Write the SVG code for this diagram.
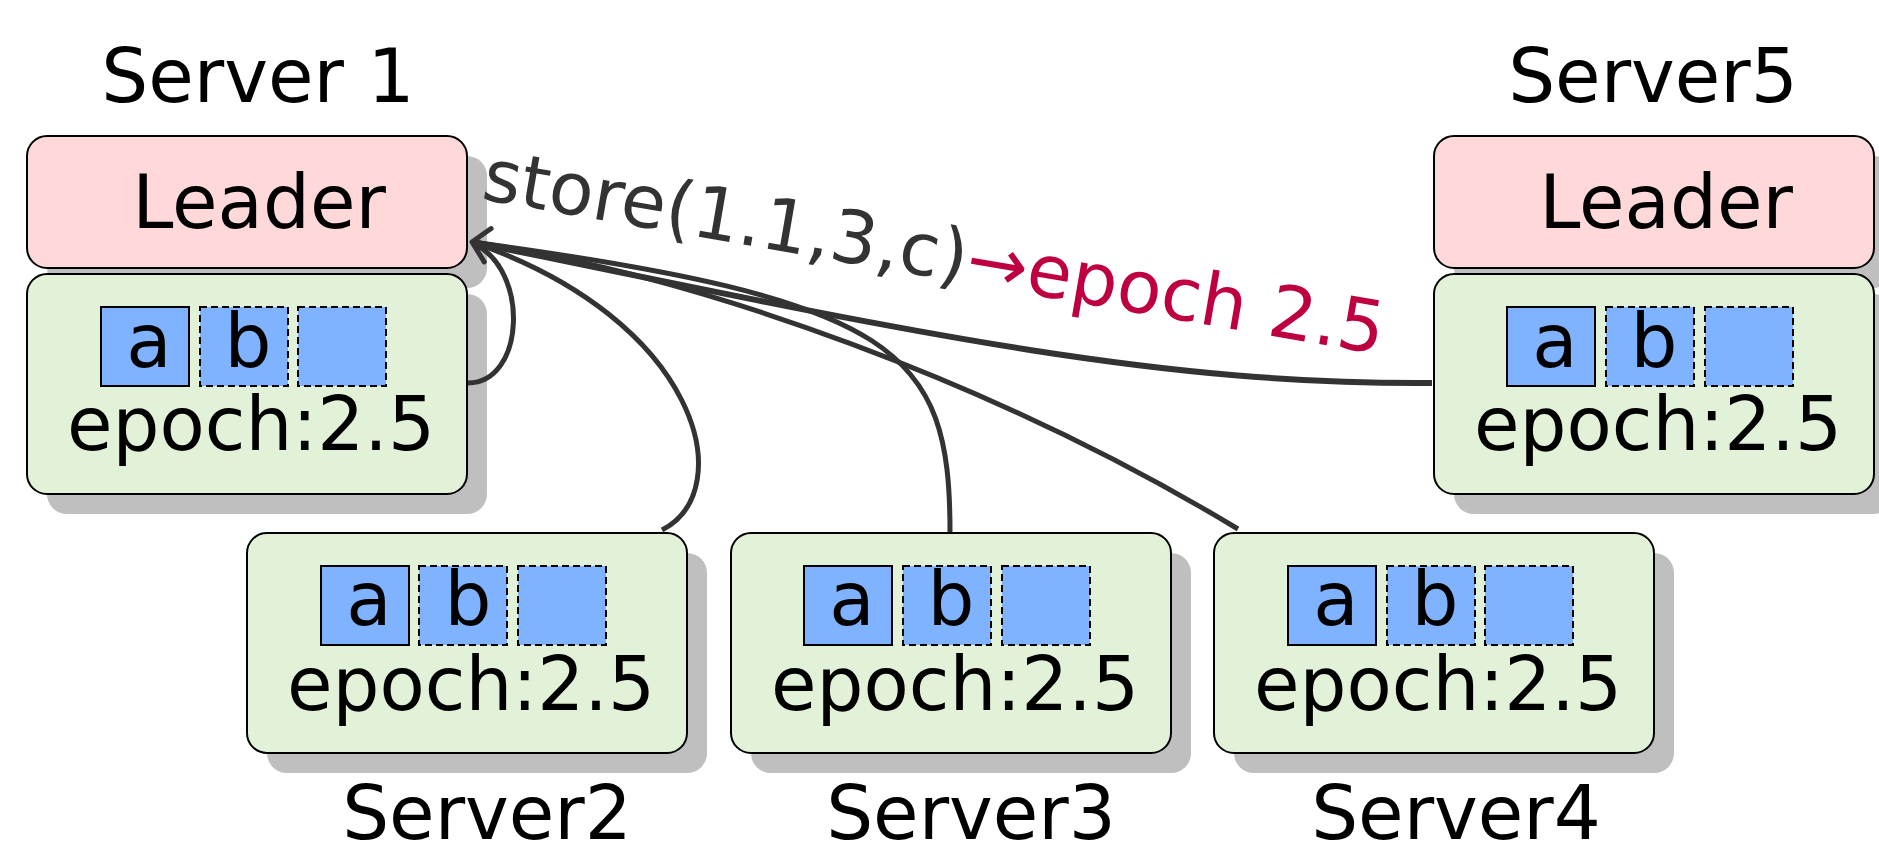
<svg xmlns="http://www.w3.org/2000/svg" width="1879" height="846" viewBox="0 0 1879 846">
<style>
text{font-family:"DejaVu Sans","Liberation Sans",sans-serif;font-size:74px;fill:#000}
.mid{text-anchor:middle}
.shadow{fill:#bfbfbf;stroke:none}
.leader{fill:#ffd9d9;stroke:#000;stroke-width:2}
.store{fill:#e2f2d8;stroke:#000;stroke-width:2}
.cell{fill:#80b3ff;stroke:#000;stroke-width:2}
.dash{stroke-dasharray:7 4}
.edge{fill:none;stroke:#333;stroke-width:5}
.lbl{font-size:73px;fill:#333}
</style>
<defs>
<marker id="open" markerUnits="userSpaceOnUse" orient="auto" refX="0" refY="0" markerWidth="40" markerHeight="40" viewBox="-20 -20 40 40" overflow="visible">
<path d="M -16 -17 L 0 0 L -16 17" fill="none" stroke="#333" stroke-width="5" stroke-linecap="round" stroke-linejoin="round"/>
</marker>
</defs>
<rect width="1879" height="846" fill="#fff"/>

<g id="server1">
<text class="mid" x="258" y="102">Server 1</text>
<rect class="shadow" x="47" y="156" width="440" height="132" rx="20"/>
<rect class="shadow" x="47" y="294" width="440" height="220" rx="20"/>
<rect class="leader" x="27" y="136" width="440" height="132" rx="20"/>
<text class="mid" x="259" y="228">Leader</text>
<g transform="translate(27,274)">
<rect class="store" x="0" y="0" width="440" height="220" rx="20"/>
<rect class="cell" x="74" y="33" width="88" height="79"/>
<rect class="cell dash" x="173" y="33" width="88" height="79"/>
<rect class="cell dash" x="271" y="33" width="88" height="79"/>
<text class="mid" x="122" y="93">a</text>
<text class="mid" x="221" y="93">b</text>
<text class="mid" x="224" y="176">epoch:2.5</text>
</g>
</g>

<g id="server5">
<text class="mid" x="1653" y="102">Server5</text>
<rect class="shadow" x="1454" y="156" width="440" height="132" rx="20"/>
<rect class="shadow" x="1454" y="294" width="440" height="220" rx="20"/>
<rect class="leader" x="1434" y="136" width="440" height="132" rx="20"/>
<text class="mid" x="1666" y="228">Leader</text>
<g transform="translate(1434,274)">
<rect class="store" x="0" y="0" width="440" height="220" rx="20"/>
<rect class="cell" x="73" y="33" width="88" height="79"/>
<rect class="cell dash" x="172" y="33" width="88" height="79"/>
<rect class="cell dash" x="271" y="33" width="88" height="79"/>
<text class="mid" x="121" y="93">a</text>
<text class="mid" x="220" y="93">b</text>
<text class="mid" x="224" y="176">epoch:2.5</text>
</g>
</g>

<g id="server2">
<g transform="translate(247,533)">
<rect class="shadow" x="20" y="20" width="440" height="220" rx="20"/>
<rect class="store" x="0" y="0" width="440" height="220" rx="20"/>
<rect class="cell" x="74" y="33" width="88" height="79"/>
<rect class="cell dash" x="172" y="33" width="88" height="79"/>
<rect class="cell dash" x="271" y="33" width="88" height="79"/>
<text class="mid" x="122" y="92">a</text>
<text class="mid" x="221" y="92">b</text>
<text class="mid" x="224" y="177">epoch:2.5</text>
</g>
<text class="mid" x="487" y="839">Server2</text>
</g>

<g id="server3">
<g transform="translate(731,533)">
<rect class="shadow" x="20" y="20" width="440" height="220" rx="20"/>
<rect class="store" x="0" y="0" width="440" height="220" rx="20"/>
<rect class="cell" x="73" y="33" width="88" height="79"/>
<rect class="cell dash" x="172" y="33" width="88" height="79"/>
<rect class="cell dash" x="271" y="33" width="88" height="79"/>
<text class="mid" x="121" y="92">a</text>
<text class="mid" x="220" y="92">b</text>
<text class="mid" x="224" y="177">epoch:2.5</text>
</g>
<text class="mid" x="971" y="839">Server3</text>
</g>

<g id="server4">
<g transform="translate(1214,533)">
<rect class="shadow" x="20" y="20" width="440" height="220" rx="20"/>
<rect class="store" x="0" y="0" width="440" height="220" rx="20"/>
<rect class="cell" x="74" y="33" width="88" height="79"/>
<rect class="cell dash" x="173" y="33" width="88" height="79"/>
<rect class="cell dash" x="271" y="33" width="88" height="79"/>
<text class="mid" x="122" y="92">a</text>
<text class="mid" x="221" y="92">b</text>
<text class="mid" x="224" y="177">epoch:2.5</text>
</g>
<text class="mid" x="1456" y="839">Server4</text>
</g>

<g id="connectors">
<path class="edge" d="M 468 383 C 525 383 530 270 474 244"/>
<path class="edge" d="M 662 530 C 740 490 700 320 472 242"/>
<path class="edge" d="M 950 532 C 950 350 900 300 472 242"/>
<path class="edge" d="M 1238 529 C 1000 385 700 275 472 242"/>
<path class="edge" style="stroke-width:6" d="M 1432 383 C 1150 385 900 330 472 242" marker-end="url(#open)"/>
<text class="lbl" transform="rotate(9.8 480 199)" x="480" y="199">store(1.1,3,c)<tspan style="fill:#bf0040">→epoch 2.5</tspan></text>
</g>
</svg>
